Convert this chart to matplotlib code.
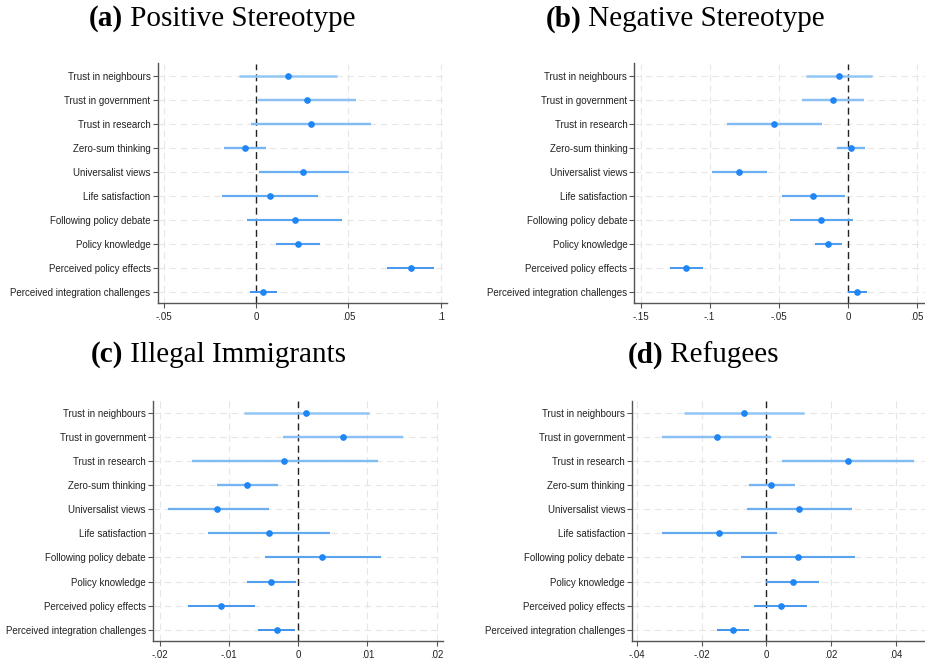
import numpy as np
import matplotlib.pyplot as plt
from matplotlib.colors import to_rgb

# outcome variables, top to bottom
outcomes = ["Trust in neighbours", "Trust in government", "Trust in research",
            "Zero-sum thinking", "Universalist views", "Life satisfaction",
            "Following policy debate", "Policy knowledge",
            "Perceived policy effects", "Perceived integration challenges"]

# (a) Positive Stereotype: estimate, lower CI, upper CI
pos_est = [0.0171, 0.0274, 0.0296, -0.0060, 0.0256, 0.0074, 0.0209, 0.0227, 0.0838, 0.0040]
pos_lo = [-0.0092, 0.0009, -0.0027, -0.0173, 0.0016, -0.0182, -0.0049, 0.0106, 0.0709, -0.0032]
pos_hi = [0.0439, 0.0542, 0.0621, 0.0056, 0.0502, 0.0334, 0.0468, 0.0348, 0.0962, 0.0116]

# (b) Negative Stereotype
neg_est = [-0.0067, -0.0108, -0.0533, 0.0022, -0.0786, -0.0253, -0.0198, -0.0142, -0.1169, 0.0067]
neg_lo = [-0.0306, -0.0333, -0.0875, -0.0077, -0.0983, -0.0480, -0.0422, -0.0236, -0.1287, 0.0002]
neg_hi = [0.0171, 0.0118, -0.0190, 0.0123, -0.0586, -0.0024, 0.0034, -0.0043, -0.1051, 0.0140]

# (c) Illegal Immigrants
ill_est = [0.0011, 0.0065, -0.0020, -0.0074, -0.0117, -0.0043, 0.0035, -0.0039, -0.0112, -0.0031]
ill_lo = [-0.0079, -0.0022, -0.0154, -0.0117, -0.0189, -0.0131, -0.0048, -0.0074, -0.0160, -0.0058]
ill_hi = [0.0102, 0.0152, 0.0115, -0.0030, -0.0043, 0.0046, 0.0119, -0.0004, -0.0063, -0.0005]

# (d) Refugees
ref_est = [-0.0069, -0.0154, 0.0252, 0.0016, 0.0102, -0.0145, 0.0097, 0.0081, 0.0044, -0.0102]
ref_lo = [-0.0254, -0.0322, 0.0048, -0.0055, -0.0060, -0.0322, -0.0078, 0.0000, -0.0037, -0.0151]
ref_hi = [0.0116, 0.0015, 0.0457, 0.0088, 0.0265, 0.0034, 0.0273, 0.0163, 0.0127, -0.0054]

pos_ticks = [-0.05, 0, 0.05, 0.1]
pos_ticklabels = ["-.05", "0", ".05", ".1"]
neg_ticks = [-0.15, -0.1, -0.05, 0, 0.05]
neg_ticklabels = ["-.15", "-.1", "-.05", "0", ".05"]
ill_ticks = [-0.02, -0.01, 0, 0.01, 0.02]
ill_ticklabels = ["-.02", "-.01", "0", ".01", ".02"]
ref_ticks = [-0.04, -0.02, 0, 0.02, 0.04]
ref_ticklabels = ["-.04", "-.02", "0", ".02", ".04"]

POINT = "#1f86f5"
LINE_TOP = np.array(to_rgb("#93c6f4"))
LINE_BOT = np.array(to_rgb("#3f93ee"))
LABEL_FONT = "Liberation Sans"


def coef_panel(fig, rect, est, lo, hi, ticks, ticklabels, xlim):
    ax = fig.add_axes(rect)
    n = len(outcomes)
    y = np.arange(1, n + 1)

    for v in ticks:
        ax.axvline(v, color="#e6e6e6", lw=0.8, ls=(0, (6, 4)), zorder=0)
    for yy in y:
        ax.axhline(yy, color="#e6e6e6", lw=0.8, ls=(0, (6, 4)), zorder=0)
    ax.axvline(0, color="#222222", lw=1.0, ls=(0, (5, 3)), zorder=1)

    # confidence intervals, shading slightly darker down the list
    for i in range(n):
        t = i / (n - 1)
        c = LINE_TOP * (1 - t) + LINE_BOT * t
        ax.plot([lo[i], hi[i]], [y[i], y[i]], color=c, lw=1.8 - 0.4 * t,
                solid_capstyle="butt", zorder=2)
    ax.plot(est, y, "o", color=POINT, ms=3.8, zorder=3)

    ax.set_xlim(*xlim)
    ax.set_ylim(10.45, 0.5)
    ax.set_yticks(y)
    ax.set_yticklabels(outcomes, fontsize=7, family=LABEL_FONT, color="#222222")
    ax.set_xticks(ticks)
    ax.set_xticklabels(ticklabels, fontsize=7, family=LABEL_FONT, color="#222222")
    ax.tick_params(axis="both", length=3.5, width=0.8, color="#555555")
    ax.tick_params(axis="y", pad=1.5)
    ax.tick_params(axis="x", pad=3)

    for s in ["top", "right"]:
        ax.spines[s].set_visible(False)
    for s in ["left", "bottom"]:
        ax.spines[s].set_color("#555555")
        ax.spines[s].set_linewidth(1.0)
    return ax


def panel_title(fig, x, y, letter, name):
    # bold letter, regular name, centred together
    t1 = fig.text(0, y, "(" + letter + ")", fontsize=21, family="Liberation Serif",
                  weight="bold", va="center")
    t2 = fig.text(0, y, " " + name, fontsize=21, family="Liberation Serif", va="center")
    fig.canvas.draw()
    r = fig.canvas.get_renderer()
    w1 = t1.get_window_extent(r).width / fig.bbox.width
    w2 = t2.get_window_extent(r).width / fig.bbox.width
    x0 = x - (w1 + w2) / 2
    t1.set_x(x0)
    t2.set_x(x0 + w1)


def main():
    fig = plt.figure(figsize=(9.25, 6.62), dpi=100)
    H = 662.0
    W = 925.0
    h = 239.5 / H

    coef_panel(fig, [157.5 / W, 1 - 303 / H, 289.2 / W, h],
               pos_est, pos_lo, pos_hi, pos_ticks, pos_ticklabels, (-0.05334, 0.10327))
    coef_panel(fig, [634.3 / W, 1 - 303 / H, 290.7 / W, h],
               neg_est, neg_lo, neg_hi, neg_ticks, neg_ticklabels, (-0.1545, 0.0557))
    coef_panel(fig, [152.7 / W, 1 - 640.5 / H, 290.0 / W, h],
               ill_est, ill_lo, ill_hi, ill_ticks, ill_ticklabels, (-0.02105, 0.02088))
    coef_panel(fig, [632.0 / W, 1 - 640.5 / H, 293.0 / W, h],
               ref_est, ref_lo, ref_hi, ref_ticks, ref_ticklabels, (-0.04153, 0.04906))

    panel_title(fig, 222 / W, 1 - 19 / H, "a", "Positive Stereotype")
    panel_title(fig, 685 / W, 1 - 19 / H, "b", "Negative Stereotype")
    panel_title(fig, 218 / W, 1 - 355 / H, "c", "Illegal Immigrants")
    panel_title(fig, 703 / W, 1 - 355 / H, "d", "Refugees")

    fig.savefig("out.png", dpi=100, facecolor="white")


if __name__ == "__main__":
    main()
